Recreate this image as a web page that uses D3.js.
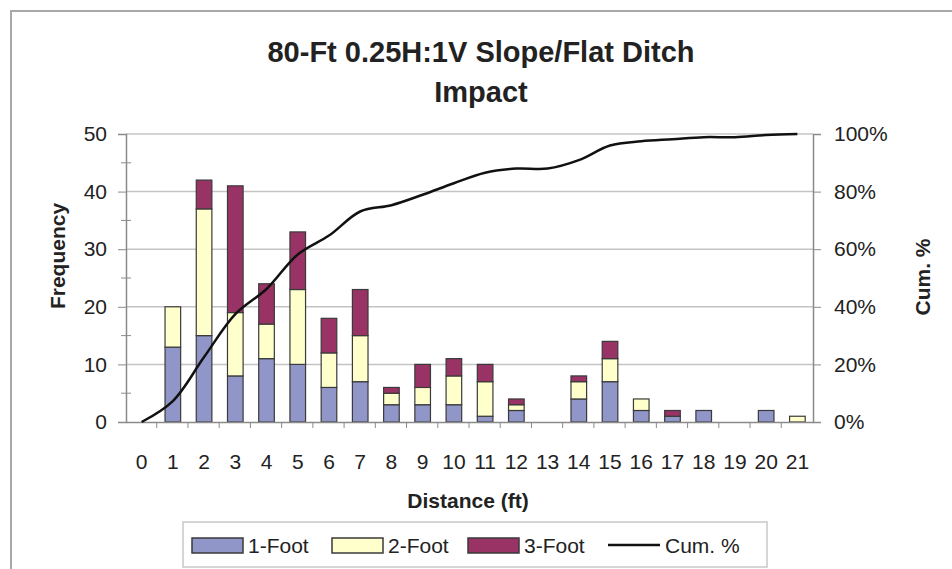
<!DOCTYPE html>
<html>
<head>
<meta charset="utf-8">
<script src="https://cdn.jsdelivr.net/npm/d3@7"></script>
<style>
  body { margin: 0; background: #fff; }
  svg { font-family: "Liberation Sans", Arial, sans-serif; }
</style>
</head>
<body>
<svg id="chart" width="952" height="569"></svg>
<script>
// categories on the x axis (distance, ft)
const distances = ["0","1","2","3","4","5","6","7","8","9","10","11","12","13","14","15","16","17","18","19","20","21"];
// counts per drop height
const oneFoot   = [0,13,15, 8,11,10,6,7,3,3,3,1,2,0,4,7,2,1,2,0,2,0];
const twoFoot   = [0, 7,22,11, 6,13,6,8,2,3,5,6,1,0,3,4,2,0,0,0,0,1];
const threeFoot = [0, 0, 5,22, 7,10,6,8,1,4,3,3,1,0,1,3,0,1,0,0,0,0];
const seriesNames = ["1-Foot","2-Foot","3-Foot"];
const freqTicks = [0,10,20,30,40,50];
const cumTicks = [0,0.2,0.4,0.6,0.8,1];

const colors = ["#9096c8","#ffffcc","#993366"];

const svg = d3.select("#chart");
const plot = {left:126, right:813, top:134, bottom:422};

// table built from the arrays
const rows = distances.map((d,i) => ({dist:d, "1-Foot":oneFoot[i], "2-Foot":twoFoot[i], "3-Foot":threeFoot[i]}));
const totals = rows.map(r => r["1-Foot"]+r["2-Foot"]+r["3-Foot"]);
const grand = d3.sum(totals);
// cumulative share, as Excel does it (typed array -> plain array)
const cum = Array.from(d3.cumsum(totals), v => v/grand);

const x = d3.scaleBand().domain(distances).range([plot.left, plot.right]).paddingInner(0.5).paddingOuter(0.25);
const y = d3.scaleLinear().domain([0,50]).range([plot.bottom, plot.top]);
const y2 = d3.scaleLinear().domain([0,1]).range([plot.bottom, plot.top]);

// outer chart frame
svg.append("rect")
  .attr("x",11).attr("y",11).attr("width",960).attr("height",600)
  .attr("fill","none").attr("stroke","#a8a8a8").attr("stroke-width",2);

// gridlines
svg.append("g")
  .selectAll("line")
  .data(freqTicks.slice(1))
  .join("line")
  .attr("x1",plot.left).attr("x2",plot.right)
  .attr("y1",d => y(d)).attr("y2",d => y(d))
  .attr("stroke","#c4c4c4").attr("stroke-width",1.5);

// stacked bars
const stack = d3.stack().keys(seriesNames)(rows);
svg.append("g")
  .selectAll("g")
  .data(stack)
  .join("g")
  .attr("fill",(d,i) => colors[i])
  .attr("stroke","#3a3a3a")
  .attr("stroke-width",1.2)
  .selectAll("rect")
  .data(d => d.filter(s => s[1] > s[0]))
  .join("rect")
  .attr("x",d => x(d.data.dist))
  .attr("width",x.bandwidth())
  .attr("y",d => y(d[1]))
  .attr("height",d => y(d[0]) - y(d[1]));

// left axis
const axisColor = "#8a8a8a";
const gl = svg.append("g").attr("transform",`translate(${plot.left},0)`)
  .call(d3.axisLeft(y).tickValues(freqTicks).tickSize(8).tickPadding(11));
gl.selectAll(".tick text").attr("font-size",21).attr("fill","#222");
// minor ticks crossing the axis
gl.selectAll(".minor")
  .data([5,15,25,35,45])
  .join("line")
  .attr("class","minor")
  .attr("x1",-5).attr("x2",5)
  .attr("y1",d => y(d)).attr("y2",d => y(d))
  .attr("stroke",axisColor);

// right axis
const gr = svg.append("g").attr("transform",`translate(${plot.right},0)`)
  .call(d3.axisRight(y2).tickValues(cumTicks).tickFormat(d3.format(".0%")).tickSize(8).tickPadding(13));
gr.selectAll(".tick text").attr("font-size",21).attr("fill","#222");

// bottom axis, ticks between categories
const gb = svg.append("g").attr("transform",`translate(0,${plot.bottom})`)
  .call(d3.axisBottom(x).tickSize(0).tickPadding(32));
gb.selectAll(".tick text").attr("font-size",21).attr("fill","#222");
gb.selectAll(".between")
  .data(distances.slice(1))
  .join("line")
  .attr("class","between")
  .attr("x1",d => x(d) - x.step()*x.paddingInner()/2 - 0.5)
  .attr("x2",d => x(d) - x.step()*x.paddingInner()/2 - 0.5)
  .attr("y1",0).attr("y2",6)
  .attr("stroke",axisColor);

[gl,gr,gb].forEach(g => {
  g.selectAll(".domain").attr("stroke",axisColor).attr("stroke-width",1.5);
  g.selectAll(".tick line").attr("stroke",axisColor);
});

// cumulative line (smoothed)
const line = d3.line()
  .x((d,i) => x(distances[i]) + x.bandwidth()/2)
  .y(d => y2(d))
  .curve(d3.curveCatmullRom);
svg.append("path")
  .datum(cum)
  .attr("d",line)
  .attr("fill","none")
  .attr("stroke","#111")
  .attr("stroke-width",2.5);

// titles
const title = svg.append("text")
  .attr("text-anchor","middle")
  .attr("font-weight","bold")
  .attr("font-size",29)
  .attr("fill","#222");
title.append("tspan").attr("x",481).attr("y",62).text("80-Ft 0.25H:1V Slope/Flat Ditch");
title.append("tspan").attr("x",481).attr("y",102).text("Impact");

svg.append("text")
  .attr("x",468).attr("y",508)
  .attr("text-anchor","middle").attr("font-weight","bold").attr("font-size",21).attr("fill","#222")
  .text("Distance (ft)");

svg.append("text")
  .attr("transform","translate(65,256) rotate(-90)")
  .attr("text-anchor","middle").attr("font-weight","bold").attr("font-size",21).attr("fill","#222")
  .text("Frequency");

svg.append("text")
  .attr("transform","translate(930,277) rotate(-90)")
  .attr("text-anchor","middle").attr("font-weight","bold").attr("font-size",21).attr("fill","#222")
  .text("Cum. %");

// legend
const legend = svg.append("g");
legend.append("rect")
  .attr("x",183).attr("y",522).attr("width",584).attr("height",45)
  .attr("fill","#fff").attr("stroke","#c8c8c8").attr("stroke-width",1.5);

const legendX = [192,332,468];
seriesNames.forEach((name,i) => {
  legend.append("rect")
    .attr("x",legendX[i]).attr("y",538).attr("width",51).attr("height",15)
    .attr("fill",colors[i]).attr("stroke","#3a3a3a").attr("stroke-width",1.5);
  legend.append("text")
    .attr("x",legendX[i]+56).attr("y",553)
    .attr("font-size",21).attr("fill","#222")
    .text(name);
});
legend.append("line")
  .attr("x1",608).attr("x2",660).attr("y1",545).attr("y2",545)
  .attr("stroke","#111").attr("stroke-width",2.5);
legend.append("text")
  .attr("x",665).attr("y",553)
  .attr("font-size",21).attr("fill","#222")
  .text("Cum. %");
</script>
</body>
</html>
